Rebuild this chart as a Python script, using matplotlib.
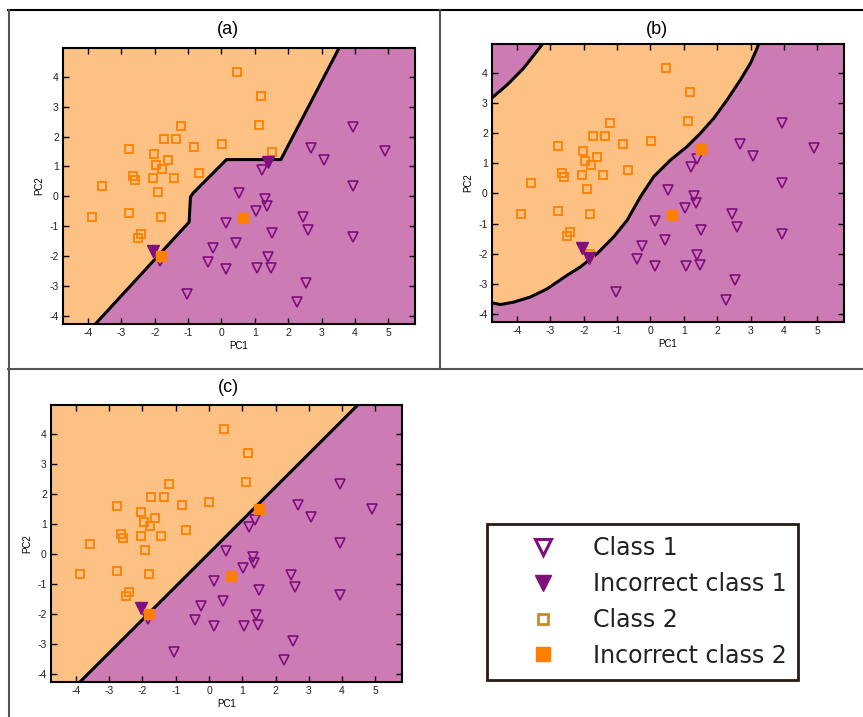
import matplotlib.pyplot as plt
from matplotlib.lines import Line2D
import numpy as np

# PCA scores, class 1 (triangles) and class 2 (squares)
c1_x = [3.93, 4.91, 2.68, 3.06, 1.38, 1.20, 3.93, 0.52, 1.31, 1.35, 1.03, 2.45, 2.59, 0.14,
        1.50, 3.93, 0.43, -0.25, 1.40, -0.41, 0.15, 1.06, 1.47, 2.53, 2.25, -1.04, -2.05, -1.84]
c1_y = [2.33, 1.50, 1.63, 1.23, 1.14, 0.89, 0.36, 0.11, -0.09, -0.31, -0.48, -0.69, -1.12, -0.90,
        -1.22, -1.36, -1.56, -1.74, -2.04, -2.19, -2.42, -2.41, -2.38, -2.89, -3.53, -3.27, -1.82, -2.16]
c2_x = [0.45, 1.18, 1.11, -1.20, -1.73, -1.36, -0.81, 0.01, 1.51, -2.76, -2.03, -1.61, -1.96, -1.78,
        -2.66, -2.60, -2.05, -1.43, -0.68, -3.58, -1.91, -3.87, -2.76, -1.80, -2.41, -2.49, 0.65, -1.80]
c2_y = [4.17, 3.37, 2.40, 2.34, 1.91, 1.91, 1.64, 1.74, 1.48, 1.58, 1.40, 1.21, 1.06, 0.93,
        0.67, 0.54, 0.61, 0.61, 0.78, 0.34, 0.14, -0.68, -0.57, -0.68, -1.27, -1.41, -0.73, -2.00]

# indices of misclassified samples for each classifier
wrong1 = {'a': [4, 26], 'b': [26, 27], 'c': [26]}
wrong2 = {'a': [26, 27], 'b': [8, 26], 'c': [8, 26, 27]}

# decision boundaries
bnd_a_x = [-4.10, -3.78, -0.97, -0.93, -0.85, 0.15, 1.78, 3.49, 3.55]
bnd_a_y = [-4.67, -4.27, -0.86, -0.02, 0.11, 1.23, 1.23, 4.89, 5.10]
bnd_b_x = [-5.0, -4.72, -4.50, -4.10, -3.60, -3.10, -2.50, -2.10, -1.60, -1.10, -0.70, -0.30,
           0.10, 0.60, 1.10, 1.50, 1.90, 2.30, 2.70, 3.00, 3.18, 3.27]
bnd_b_y = [-3.60, -3.64, -3.69, -3.61, -3.44, -3.17, -2.72, -2.44, -2.00, -1.44, -0.89, -0.11,
           0.56, 1.11, 1.56, 2.00, 2.50, 3.11, 3.78, 4.33, 4.78, 5.05]
bnd_b2_x = [-5.0, -4.72, -4.30, -3.80, -3.25, -3.20]
bnd_b2_y = [3.00, 3.20, 3.60, 4.16, 4.94, 5.05]
bnd_c_x = [-4.00, 4.55]
bnd_c_y = [-4.40, 5.05]

ORANGE_BG = '#fec184'
PURPLE_BG = '#cc7bb4'
ORANGE = '#ff8000'
PURPLE = '#7f0f7f'
XLIM = (-4.75, 5.8)
YLIM = (-4.27, 4.96)

fig = plt.figure(figsize=(8.63, 7.17), dpi=100)
plt.rcParams['font.family'] = ['Liberation Sans', 'DejaVu Sans']
plt.rcParams['axes.unicode_minus'] = False


def panel(rect, key, fills, lines):
    ax = fig.add_axes(rect)
    ax.set_facecolor(PURPLE_BG)
    for fx, fy in fills:
        ax.fill(fx, fy, color=ORANGE_BG, lw=0, zorder=1)
    for lx, ly in lines:
        ax.plot(lx, ly, color='black', lw=2.2, solid_joinstyle='round', zorder=2)
    ok1 = [i for i in range(len(c1_x)) if i not in wrong1[key]]
    ok2 = [i for i in range(len(c2_x)) if i not in wrong2[key]]
    ax.plot([c2_x[i] for i in ok2], [c2_y[i] for i in ok2], 's', ms=5.5, mfc='none',
            mec=ORANGE, mew=1.3, zorder=3)
    ax.plot([c1_x[i] for i in ok1], [c1_y[i] for i in ok1], 'v', ms=7.5, mfc='none',
            mec=PURPLE, mew=1.2, zorder=3)
    ax.plot([c1_x[i] for i in wrong1[key]], [c1_y[i] for i in wrong1[key]], 'v', ms=8,
            mfc=PURPLE, mec=PURPLE, zorder=4)
    ax.plot([c2_x[i] for i in wrong2[key]], [c2_y[i] for i in wrong2[key]], 's', ms=6.5,
            mfc=ORANGE, mec=ORANGE, zorder=4)
    ax.set_xlim(XLIM)
    ax.set_ylim(YLIM)
    ax.set_xticks(range(-4, 6))
    ax.set_yticks(range(-4, 5))
    ax.tick_params(direction='in', length=4, width=1, top=True, right=True,
                   labelsize=7.5, pad=3, colors='black', labelcolor='#222222')
    for s in ax.spines.values():
        s.set_linewidth(1.5)
        s.set_color('black')
    ax.set_xlabel('PC1', fontsize=7, labelpad=2)
    ax.set_ylabel('PC2', fontsize=7, labelpad=4)
    return ax


poly_a = (bnd_a_x + [-6, -6], bnd_a_y + [5.1, -4.67])
panel([0.0730, 0.5481, 0.4079, 0.3849], 'a', [poly_a], [(bnd_a_x, bnd_a_y)])

poly_b = (bnd_b_x + bnd_b2_x[::-1], bnd_b_y + bnd_b2_y[::-1])
panel([0.5701, 0.5509, 0.4079, 0.3877], 'b', [poly_b],
      [(bnd_b_x, bnd_b_y), (bnd_b2_x, bnd_b2_y)])

poly_c = (bnd_c_x + [-6, -6], bnd_c_y + [5.05, -4.40])
panel([0.0591, 0.0488, 0.4067, 0.3863], 'c', [poly_c], [(bnd_c_x, bnd_c_y)])

# panel titles
fig.text(228 / 863, 1 - 30 / 717, '(a)', fontsize=13, ha='center', va='center')
fig.text(657 / 863, 1 - 30 / 717, '(b)', fontsize=13, ha='center', va='center')
fig.text(228 / 863, 1 - 388 / 717, '(c)', fontsize=13, ha='center', va='center')

# table rules around the panels
W, H = 863, 717
rules = [((8, 863), (10, 10), 'black'),
         ((8.5, 8.5), (10, 717), '#555555'),
         ((440, 440), (10, 369), '#555555'),
         ((8, 863), (369, 369), '#555555')]
for xs, ys, col in rules:
    fig.add_artist(Line2D([x / W for x in xs], [1 - y / H for y in ys],
                          transform=fig.transFigure, color=col, lw=1.5))

handles = [Line2D([], [], ls='none', marker='v', ms=11, mfc='white', mec=PURPLE, mew=2.2),
           Line2D([], [], ls='none', marker='v', ms=12, mfc=PURPLE, mec=PURPLE),
           Line2D([], [], ls='none', marker='s', ms=7.5, mfc='white', mec='#c88a2a', mew=2),
           Line2D([], [], ls='none', marker='s', ms=10, mfc=ORANGE, mec=ORANGE)]
labels = ['Class 1', 'Incorrect class 1', 'Class 2', 'Incorrect class 2']
leg = fig.legend(handles, labels, loc='center', bbox_to_anchor=(0.7445, 0.1604),
                 prop={'family': 'DejaVu Sans', 'size': 17}, frameon=True, fancybox=False,
                 framealpha=1, edgecolor='#2a1a14', handlelength=3.75, handletextpad=0.25,
                 labelspacing=0.5, borderpad=0.5)
leg.get_frame().set_linewidth(2)
for t in leg.get_texts():
    t.set_color('#222222')

fig.savefig('out.png', dpi=100)
